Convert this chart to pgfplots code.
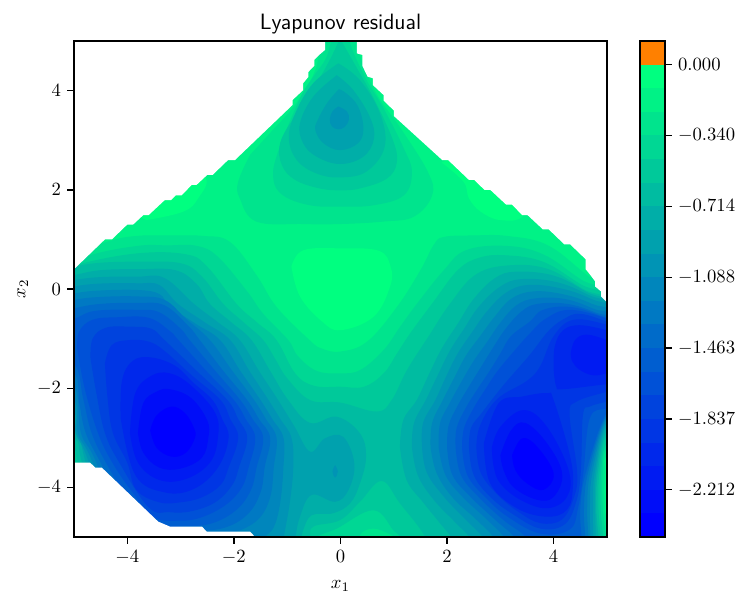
\documentclass[border=0pt]{standalone}
\usepackage{pgfplots}
\pgfplotsset{compat=1.18}
\definecolor{b1}{RGB}{0,255,128}\definecolor{b2}{RGB}{0,242,134}\definecolor{b3}{RGB}{0,228,141}\definecolor{b4}{RGB}{0,215,148}
\definecolor{b5}{RGB}{0,201,154}\definecolor{b6}{RGB}{0,188,161}\definecolor{b7}{RGB}{0,174,168}\definecolor{b8}{RGB}{0,161,174}
\definecolor{b9}{RGB}{0,148,181}\definecolor{b10}{RGB}{0,134,188}\definecolor{b11}{RGB}{0,121,195}\definecolor{b12}{RGB}{0,107,201}
\definecolor{b13}{RGB}{0,94,208}\definecolor{b14}{RGB}{0,81,215}\definecolor{b15}{RGB}{0,67,221}\definecolor{b16}{RGB}{0,54,228}
\definecolor{b17}{RGB}{0,40,235}\definecolor{b18}{RGB}{0,27,242}\definecolor{b19}{RGB}{0,13,248}\definecolor{b20}{RGB}{0,0,255}
\definecolor{bo}{RGB}{255,128,0}
\pgfplotsset{lv/.style={fill=b#1,draw=none,smooth,/tikz/tension=0.65},
  cb/.style={fill=#1,draw=none,sharp plot}}
\begin{document}
\begin{tikzpicture}
\useasboundingbox (-39.64pt,-35.36pt) rectangle (361.07pt,287.68pt);
\begin{axis}[name=main,at={(0pt,0pt)},anchor=south west,scale only axis,width=285.5pt,height=265.7pt,
  xmin=-5,xmax=5,ymin=-5,ymax=5,axis on top,
  xtick={-4,-2,0,2,4},ytick={-4,-2,0,2,4},xtick pos=bottom,ytick pos=left,tick align=outside,
  major tick length=3.5pt,axis line style={line width=.75pt,black},tick style={line width=.75pt,black},
  title={\sffamily Lyapunov residual},title style={font=\fontsize{11.9}{14}\selectfont,at={(0.5,1)},anchor=south,yshift=-6pt},
  xlabel={$x_1$},ylabel={$x_2$},
  xlabel style={at={(axis description cs:0.5,0)},anchor=north,yshift=-19.75pt},
  ylabel style={at={(axis description cs:0,0.5)},anchor=south,yshift=21pt}]
% base
\addplot[cb=b2] coordinates {(-5.2,-5.2)(5.2,-5.2)(5.2,5.2)(-5.2,5.2)} --cycle;
% brightest band
\addplot[lv=1] coordinates {(-.92,.45)(-.7,.78)(0,.82)(.72,.77)(.94,.45)(.93,.05)(.62,-.56)(0,-.83)(-.35,-.65)(-.76,-.15)(-.92,.45)};
\addplot[lv=1] coordinates {(-3.64,1.39)(-2.95,1.56)(-2.67,1.83)(-2.54,2.26)(-3.2,2.6)(-4,1.8)(-3.64,1.39)};
\addplot[lv=1] coordinates {(1.9,2.55)(2.31,2.16)(2.41,1.83)(2.63,1.56)(3,1.39)(3.44,1.49)(3.6,2.2)(2.8,2.8)(1.9,2.55)};
% upper lobe
\addplot[lv=3] coordinates {(-1.70,2.70)(-1.3,3.17)(-.92,3.62)(-.68,4.0)(-.46,4.45)(-.28,5.2)(.28,5.2)(.38,4.65)(.69,3.91)(1.13,3.24)(1.64,2.36)(1.72,1.89)(1.38,1.46)(.81,1.36)(0,1.31)(-.7,1.31)(-1.58,1.36)(-1.89,1.83)(-1.92,2.16)(-1.70,2.70)};
\addplot[lv=4] coordinates {(-.14,5.2)(-.26,4.68)(-.51,4.28)(-.76,3.84)(-1.17,2.77)(-1.26,2.23)(-1.08,1.89)(-.58,1.69)(0,1.66)(.63,1.69)(1.19,1.89)(1.34,2.36)(1.19,2.83)(.81,3.64)(.47,4.25)(.19,4.92)(.16,5.2)(-.14,5.2)};
\addplot[lv=5] coordinates {(-.01,5.05)(-.2,4.62)(-.45,4.15)(-.85,3.5)(-1.13,2.95)(-1.1,2.5)(-.85,2.2)(-.4,2.03)(0,1.99)(.375,2.03)(.875,2.23)(1.06,2.57)(.97,3.04)(.625,3.84)(.31,4.45)(-.01,5.05)};
\addplot[lv=6] coordinates {(-.04,4.55)(-.51,4.15)(-.82,3.61)(-.97,3.07)(-.82,2.6)(-.45,2.33)(-.01,2.25)(.49,2.37)(.83,2.87)(.74,3.54)(.365,4.21)(-.04,4.55)};
\addplot[lv=7] coordinates {(-.07,4.31)(-.51,3.88)(-.76,3.34)(-.70,2.94)(-.45,2.67)(-.01,2.52)(.43,2.67)(.63,3.04)(.55,3.47)(.24,4.01)(-.07,4.31)};
\addplot[lv=8] coordinates {(-.03,4.03)(-.25,3.75)(-.43,3.4)(-.47,3.2)(-.32,2.94)(-.01,2.80)(.33,2.94)(.43,3.24)(.33,3.68)(.115,3.94)(-.03,4.03)};
\addplot[lv=9] coordinates {(-.04,3.68)(.12,3.58)(.16,3.42)(.08,3.27)(-.04,3.22)(-.16,3.28)(-.2,3.42)(-.15,3.58)(-.04,3.68)};
% lower region
\addplot[lv=3] coordinates {(-5.6,.5)(-4.39,.95)(-3.825,1.07)(-3.2,1.08)(-2.575,1.07)(-2.075,.95)(-1.575,.28)(-1.2,-.36)(-.58,-1.03)(-.35,-1.2)(0,-1.26)(.5,-1.06)(1.06,-.36)(1.5,.38)(1.75,.89)(1.94,1.05)(2.5,1.08)(3.125,1.07)(3.875,.89)(4.6,.3)(5.4,-.4)(5.4,-3.1)(5,-3.35)(4.96,-3.68)(4.96,-4.5)(5.02,-5.4)(-5.6,-5.4)(-5.6,.5)};
\addplot[lv=4] coordinates {(-5.6,.3)(-4.7,.68)(-3.8,.87)(-3.25,.88)(-2.7,.87)(-2.3,.65)(-1.75,-.05)(-1.45,-.5)(-.98,-1.03)(-.8,-1.35)(-.45,-1.65)(0,-1.70)(.375,-1.63)(.81,-1.23)(1.12,-.76)(1.44,-.29)(1.94,.38)(2.35,.78)(3.1,.87)(3.8,.7)(4.5,.2)(5.4,-.45)(5.4,-3.0)(5,-3.2)(4.92,-3.68)(4.92,-4.4)(4.98,-5)(5,-5.4)(.99,-5.4)(.99,-5.02)(.9,-4.93)(.615,-4.83)(.365,-4.96)(.3,-5.4)(-5.6,-5.4)(-5.6,.3)};
\addplot[lv=5] coordinates {(-5.6,.2)(-4.9,.5)(-3.8,.72)(-2.9,.70)(-2.5,.45)(-1.95,-.3)(-1.57,-.67)(-1.2,-1.03)(-.85,-1.7)(-.5,-1.95)(0,-1.97)(.44,-1.97)(.81,-1.7)(1.06,-1.3)(1.31,-.89)(1.75,-.25)(2.2,.38)(2.6,.63)(3.1,.68)(3.8,.55)(4.5,.1)(5.4,-.5)(5.4,-2.9)(5,-3.1)(4.89,-3.68)(4.88,-4.4)(4.93,-5)(4.95,-5.4)(1.115,-5.4)(1.115,-5.02)(.99,-4.86)(.615,-4.46)(-.07,-4.83)(-.45,-5.02)(-.5,-5.4)(-4.5,-5.4)(-5,-3.9)(-5,-3.45)(-5.6,-3.3)(-5.6,.2)};
\addplot[lv=6] coordinates {(-5.6,.3)(-5,.45)(-4.5,.53)(-3.8,.55)(-3,.52)(-2.6,.25)(-2.2,-.3)(-1.82,-.67)(-1.45,-1.03)(-1.22,-1.42)(-1,-1.8)(-.57,-2.24)(0,-2.29)(.68,-2.47)(.96,-2.24)(1.25,-1.63)(1.65,-.96)(2.06,-.29)(2.55,.3)(3.2,.48)(3.9,.4)(4.55,0)(5.4,-.55)(5.4,-2.8)(5,-2.95)(4.86,-3.68)(4.84,-4.4)(4.88,-5)(4.9,-5.4)(1.6,-5.4)(1.6,-5.02)(1.115,-4.32)(.77,-3.87)(.365,-4.29)(-.01,-4.66)(-.51,-4.79)(-.57,-5.02)(-.6,-5.4)(-4.5,-5.4)(-4.93,-3.5)(-5,-3.25)(-5.6,-3.1)(-5.6,.3)};
% left lobe
\addplot[lv=7] coordinates {(-5.6,.15)(-5,.28)(-4.5,.38)(-3.8,.40)(-3.1,.38)(-2.7,.1)(-2.45,-.3)(-2.05,-.67)(-1.67,-1.03)(-1.32,-1.65)(-.98,-2.24)(-.57,-2.7)(-.07,-2.575)(.365,-2.91)(.48,-3.38)(.365,-3.92)(.18,-4.32)(-.135,-4.52)(-.54,-4.56)(-.7,-4.86)(-.75,-5.05)(-.78,-5.4)(-4.4,-5.4)(-4.85,-3.5)(-5,-3)(-5.6,-2.85)(-5.6,.15)};
\addplot[lv=8] coordinates {(-5.6,.05)(-5,.18)(-4.5,.24)(-3.8,.25)(-3.3,.22)(-2.75,-.3)(-2.3,-.67)(-1.89,-1.03)(-1.53,-1.65)(-1.17,-2.24)(-.87,-2.76)(-.57,-3.28)(-.29,-3.01)(.05,-2.98)(.26,-3.52)(.15,-4.05)(-.1,-4.29)(-.54,-4.15)(-.76,-4.59)(-.85,-5.05)(-.88,-5.4)(-4.3,-5.4)(-4.78,-3.5)(-5,-2.78)(-5.6,-2.6)(-5.6,.05)};
\addplot[lv=9] coordinates {(-.1,-3.55)(-.05,-3.68)(-.1,-3.8)(-.15,-3.68)(-.1,-3.55)};
\addplot[lv=9] coordinates {(-5.6,-.1)(-5,.05)(-4.5,.11)(-3.8,.115)(-3.4,.08)(-3.05,-.3)(-2.55,-.67)(-2.07,-1.03)(-1.71,-1.65)(-1.35,-2.24)(-1.13,-2.62)(-.92,-3)(-.885,-3.58)(-.95,-4.3)(-1.07,-5.05)(-1.1,-5.4)(-4.2,-5.4)(-4.72,-3.5)(-4.97,-2.9)(-5,-2.5)(-5.6,-2.3)(-5.6,-.1)};
\addplot[lv=10] coordinates {(-5.6,-.25)(-5,-.09)(-4.5,-.03)(-3.8,-.02)(-3.4,-.1)(-3.2,-.35)(-2.72,-.7)(-2.26,-1.03)(-1.88,-1.65)(-1.5,-2.24)(-1.28,-2.62)(-1.07,-3)(-1.07,-3.58)(-1.13,-4.3)(-1.25,-4.8)(-1.45,-5.05)(-1.5,-5.4)(-4,-5.4)(-4.65,-3.5)(-4.93,-2.9)(-5,-2.24)(-5.6,-2)(-5.6,-.25)};
\addplot[lv=11] coordinates {(-5.6,-.38)(-5,-.22)(-4.5,-.16)(-3.8,-.15)(-3.3,-.22)(-2.9,-.6)(-2.45,-1.03)(-2.03,-1.65)(-1.62,-2.24)(-1.4,-2.62)(-1.2,-3)(-1.25,-3.58)(-1.32,-4.2)(-1.55,-4.65)(-2,-4.92)(-2.4,-5.05)(-3,-5.4)(-4,-5.2)(-4.58,-3.5)(-4.87,-2.9)(-5,-1.97)(-5.6,-1.75)(-5.6,-.38)};
\addplot[lv=12] coordinates {(-5.6,-.55)(-5,-.39)(-4.5,-.3)(-3.8,-.28)(-3.3,-.33)(-2.85,-.75)(-2.64,-1.03)(-2.2,-1.65)(-1.75,-2.24)(-1.53,-2.62)(-1.32,-3)(-1.42,-3.58)(-1.5,-4.1)(-1.75,-4.55)(-2.2,-4.82)(-2.8,-4.88)(-3.4,-4.92)(-4.1,-4.3)(-4.5,-3.5)(-4.78,-2.9)(-4.9,-2.3)(-5,-1.7)(-5.6,-1.5)(-5.6,-.55)};
\addplot[lv=13] coordinates {(-5.6,-.78)(-5,-.6)(-4.6,-.44)(-3.8,-.42)(-3.4,-.47)(-3,-.8)(-2.83,-1.03)(-2.35,-1.65)(-1.88,-2.24)(-1.65,-2.62)(-1.45,-3)(-1.57,-3.58)(-1.68,-4.05)(-1.95,-4.45)(-2.4,-4.72)(-2.9,-4.78)(-3.5,-4.75)(-4,-4.2)(-4.4,-3.5)(-4.67,-2.9)(-4.83,-2.2)(-5,-1.5)(-5.6,-1.2)(-5.6,-.78)};
\addplot[lv=14] coordinates {(-4.94,-1.2)(-4.9,-.85)(-4.65,-.62)(-4.2,-.57)(-3.6,-.58)(-3.2,-.85)(-3.04,-1.03)(-2.52,-1.65)(-2,-2.24)(-1.78,-2.62)(-1.6,-3)(-1.72,-3.58)(-1.85,-4)(-2.15,-4.35)(-2.6,-4.6)(-3,-4.67)(-3.5,-4.6)(-3.9,-4.1)(-4.28,-3.5)(-4.55,-2.9)(-4.8,-2)(-4.94,-1.2)};
\addplot[lv=15] coordinates {(-4.69,-1.4)(-4.65,-1)(-4.4,-.78)(-3.95,-.76)(-3.55,-.8)(-3.3,-1.03)(-2.7,-1.65)(-2.12,-2.24)(-1.92,-2.62)(-1.75,-3)(-1.9,-3.58)(-2.03,-3.95)(-2.35,-4.3)(-2.8,-4.48)(-3.2,-4.5)(-3.6,-4.4)(-4.15,-3.5)(-4.42,-2.9)(-4.58,-2.1)(-4.69,-1.4)};
\addplot[lv=16] coordinates {(-4.42,-1.5)(-4.29,-1.13)(-3.97,-1.03)(-3.6,-1.06)(-3.3,-1.25)(-2.78,-1.75)(-2.25,-2.24)(-2.07,-2.62)(-1.92,-3)(-2.1,-3.6)(-2.25,-3.95)(-2.6,-4.2)(-3,-4.3)(-3.4,-4.3)(-3.83,-4.05)(-4,-3.5)(-4.27,-2.9)(-4.37,-2.2)(-4.42,-1.5)};
\addplot[lv=17] coordinates {(-4.125,-2.6)(-4.1,-1.85)(-3.9,-1.45)(-3.55,-1.38)(-3.1,-1.55)(-2.75,-1.9)(-2.4,-2.24)(-2.22,-2.62)(-2.1,-3)(-2.3,-3.6)(-2.75,-4.03)(-3.3,-4.1)(-3.85,-3.75)(-4.125,-2.6)};
\addplot[lv=18] coordinates {(-3.95,-2.9)(-3.85,-2.1)(-3.55,-1.75)(-3.2,-1.70)(-2.8,-1.95)(-2.35,-2.5)(-2.3,-3)(-2.45,-3.5)(-2.9,-3.83)(-3.4,-3.85)(-3.8,-3.5)(-3.95,-2.9)};
\addplot[lv=19] coordinates {(-3.8,-2.9)(-3.7,-2.3)(-3.45,-2.07)(-3.2,-2.02)(-2.8,-2.2)(-2.5,-2.65)(-2.48,-3)(-2.6,-3.4)(-3,-3.62)(-3.4,-3.6)(-3.7,-3.3)(-3.8,-2.9)};
\addplot[lv=20] coordinates {(-3.57,-2.85)(-3.45,-2.55)(-3.17,-2.37)(-2.92,-2.5)(-2.75,-2.8)(-2.73,-3)(-2.9,-3.3)(-3.17,-3.38)(-3.45,-3.2)(-3.57,-2.85)};
% right lobes
\addplot[lv=7] coordinates {(1.115,-3.18)(1.18,-2.64)(1.43,-2.24)(1.66,-1.72)(1.9,-1.2)(2.2,-.7)(2.5,-.2)(2.9,.22)(3.3,.35)(4,.27)(4.6,-.05)(5.4,-.6)(5.4,-2.7)(5,-2.85)(4.83,-3.68)(4.8,-4.4)(4.84,-5)(4.86,-5.4)(2.15,-5.4)(2.1,-5.05)(1.85,-4.7)(1.55,-4.3)(1.24,-3.85)(1.115,-3.18)};
\addplot[lv=8] coordinates {(1.34,-3.18)(1.38,-2.7)(1.6,-2.24)(1.82,-1.75)(2.05,-1.25)(2.32,-.8)(2.6,-.35)(3,.05)(3.4,.2)(4.05,.14)(4.65,-.12)(5.4,-.6)(5.4,-2.6)(5,-2.75)(4.8,-3.68)(4.78,-4.4)(4.79,-5)(4.79,-5.4)(2.5,-5.4)(2.45,-5.05)(2.15,-4.7)(1.75,-4.25)(1.45,-3.75)(1.34,-3.18)};
\addplot[lv=9] coordinates {(1.53,-3.18)(1.55,-2.7)(1.78,-2.24)(1.98,-1.77)(2.2,-1.3)(2.47,-.87)(2.75,-.45)(3.1,-.08)(3.5,.08)(4.1,.02)(4.7,-.2)(5.4,-.65)(5.4,-2.55)(5,-2.68)(4.77,-3.68)(4.74,-4.4)(4.74,-5)(4.74,-5.4)(2.75,-5.4)(2.7,-5.05)(2.35,-4.65)(1.95,-4.2)(1.62,-3.7)(1.53,-3.18)};
\addplot[lv=10] coordinates {(1.69,-3.18)(1.72,-2.7)(1.92,-2.24)(2.13,-1.8)(2.35,-1.35)(2.62,-.95)(2.9,-.55)(3.2,-.2)(3.6,-.05)(4.15,-.1)(4.72,-.3)(5.4,-.7)(5.4,-2.5)(5,-2.62)(4.73,-3.68)(4.68,-4.4)(4.69,-5)(4.69,-5.4)(2.95,-5.4)(2.9,-5.05)(2.55,-4.65)(2.1,-4.2)(1.8,-3.7)(1.69,-3.18)};
\addplot[lv=11] coordinates {(1.84,-3.18)(1.87,-2.7)(2.05,-2.3)(2.27,-1.87)(2.5,-1.45)(2.75,-1.07)(3,-.68)(3.3,-.33)(3.65,-.19)(4.2,-.2)(4.75,-.4)(5.4,-.75)(5.4,-2.45)(5,-2.57)(4.69,-3.68)(4.63,-4.4)(4.65,-5)(4.65,-5.4)(3.15,-5.4)(3.1,-5.05)(2.75,-4.65)(2.3,-4.2)(1.97,-3.75)(1.84,-3.18)};
\addplot[lv=12] coordinates {(2,-3.18)(2.03,-2.75)(2.2,-2.35)(2.42,-1.95)(2.65,-1.55)(2.87,-1.17)(3.1,-.8)(3.4,-.45)(3.7,-.3)(4.25,-.3)(4.8,-.48)(5.4,-.8)(5.4,-2.4)(5,-2.53)(4.65,-3.68)(4.57,-4.4)(4.59,-5)(4.59,-5.4)(3.35,-5.4)(3.3,-5.05)(2.9,-4.65)(2.45,-4.2)(2.1,-3.75)(2,-3.18)};
\addplot[lv=13] coordinates {(2.16,-3.18)(2.18,-2.8)(2.35,-2.4)(2.57,-2.02)(2.8,-1.65)(3,-1.3)(3.2,-.95)(3.55,-.66)(3.8,-.42)(4.3,-.36)(4.85,-.53)(5.4,-.85)(5.4,-2.35)(5,-2.48)(4.61,-3.68)(4.5,-4.4)(4.52,-5)(4.52,-5.4)(3.55,-5.4)(3.5,-5.03)(3.05,-4.65)(2.6,-4.2)(2.26,-3.75)(2.16,-3.18)};
\addplot[lv=14] coordinates {(2.28,-3.18)(2.32,-2.8)(2.5,-2.4)(2.72,-2.02)(2.95,-1.65)(3.3,-1.2)(3.55,-.9)(3.85,-.6)(4.3,-.42)(5,-.6)(5.4,-.85)(5.4,-2.25)(5,-2.4)(4.68,-2.6)(4.56,-3.68)(4.46,-4.4)(4.3,-4.85)(3.75,-4.93)(3.15,-4.6)(2.72,-4.2)(2.38,-3.75)(2.28,-3.18)};
\addplot[lv=15] coordinates {(2.41,-3.18)(2.45,-2.8)(2.65,-2.5)(3.05,-1.95)(3.55,-1.33)(3.9,-.85)(4.2,-.6)(4.5,-.5)(5,-.66)(5.4,-.85)(5.4,-2.15)(5,-2.27)(4.68,-2.37)(4.55,-2.54)(4.51,-3.68)(4.42,-4.3)(4.2,-4.75)(3.75,-4.83)(3.25,-4.55)(2.82,-4.2)(2.5,-3.75)(2.41,-3.18)};
\addplot[lv=16] coordinates {(2.55,-3.18)(2.62,-2.75)(2.94,-2.22)(3.5,-1.85)(3.75,-1.55)(4,-.95)(4.375,-.62)(5,-.72)(5.4,-.88)(5.4,-1.95)(5,-2.07)(4.43,-2.27)(4.3,-2.54)(4.44,-3.68)(4.38,-4.2)(4.15,-4.65)(3.75,-4.72)(3.35,-4.5)(2.95,-4.15)(2.63,-3.7)(2.55,-3.18)};
\addplot[lv=17] coordinates {(2.69,-3.11)(2.97,-2.3)(3.4,-2.17)(3.875,-2.1)(4,-2.24)(4.31,-3.38)(4.36,-4)(4.25,-4.45)(3.875,-4.59)(3.31,-4.42)(2.81,-3.92)(2.69,-3.11)};
\addplot[lv=17] coordinates {(4,-1.63)(4.05,-1.97)(4.18,-2.02)(5,-1.92)(5.4,-1.9)(5.4,-.95)(5,-.83)(4.49,-.73)(4.18,-.83)(4.02,-1.16)(4,-1.63)};
\addplot[lv=18] coordinates {(2.84,-3.2)(3,-2.78)(3.44,-2.44)(3.875,-2.78)(4.28,-3.65)(4.25,-4.19)(3.875,-4.42)(3.375,-4.25)(3,-3.92)(2.875,-3.58)(2.84,-3.2)};
\addplot[lv=18] coordinates {(4.32,-1.3)(4.4,-1.03)(4.62,-.92)(5,-1.03)(5.4,-1.2)(5.4,-1.6)(5,-1.7)(4.74,-1.74)(4.49,-1.63)(4.35,-1.46)(4.32,-1.3)};
\addplot[lv=19] coordinates {(3,-3.35)(3.2,-2.85)(3.47,-2.7)(3.875,-3.11)(4.16,-3.72)(4,-4.19)(3.69,-4.25)(3.25,-4)(3.06,-3.65)(3,-3.35)};
\addplot[lv=20] coordinates {(3.22,-3.35)(3.41,-3.01)(3.69,-3.18)(4,-3.72)(3.81,-4.05)(3.5,-3.92)(3.28,-3.65)(3.22,-3.35)};
% outside the plotted domain
\addplot[cb=white] coordinates {(-5.3,.42)(-4.98,.42)(-4.42,1)(-4.29,1)(-4,1.3)(-3.89,1.3)(-3.7,1.49)(-3.6,1.49)(-3.3,1.79)(-3.18,1.79)(-3.09,1.89)(-2.98,1.89)(-2.79,2.1)(-2.7,2.1)(-2.5,2.3)(-2.4,2.3)(-2.11,2.6)(-1.98,2.6)(-.9,3.71)(-.9,3.81)(-.7,4.01)(-.7,4.15)(-.6,4.28)(-.6,4.38)(-.49,4.5)(-.49,4.62)(-.4,4.72)(-.29,4.82)(-.29,5.3)(-5.3,5.3)} --cycle;
\addplot[cb=white] coordinates {(.31,5.3)(.31,4.75)(.41,4.72)(.41,4.5)(.51,4.28)(.61,4.25)(.61,4.11)(.81,3.91)(.81,3.8)(1,3.6)(1,3.49)(1.91,2.6)(2.02,2.6)(2.41,2.2)(2.51,2.2)(2.7,2)(2.81,2)(3.11,1.7)(3.22,1.7)(3.41,1.49)(3.51,1.49)(3.8,1.2)(3.91,1.2)(4.2,.9)(4.31,.9)(4.6,.6)(4.6,.4)(4.69,.28)(4.78,.15)(4.78,.05)(4.89,-.05)(4.89,-.15)(5,-.27)(5.3,-.27)(5.3,5.3)} --cycle;
\addplot[cb=white] coordinates {(-5.3,-3.5)(-4.7,-3.5)(-4.6,-3.6)(-4.48,-3.6)(-3.42,-4.69)(-3.2,-4.79)(-2.6,-4.79)(-2.51,-4.89)(-1.7,-4.89)(-1.6,-5)(-1.55,-5.3)(-5.3,-5.3)} --cycle;
\end{axis}
\begin{axis}[at={(303.2pt,0pt)},anchor=south west,scale only axis,width=13.39pt,height=265.7pt,
  xmin=0,xmax=1,ymin=0,ymax=21,xtick=\empty,axis on top,
  ytick={2,5,8,11,14,17,20},
  yticklabels={$-2.212$,$-1.837$,$-1.463$,$-1.088$,$-0.714$,$-0.340$,$0.000$},
  ytick pos=right,yticklabel pos=right,tick align=outside,major tick length=3.5pt,
  axis line style={line width=.75pt,black},tick style={line width=.75pt,black}]
\addplot[cb=b20] coordinates {(0,0)(1,0)(1,1)(0,1)} --cycle;
\addplot[cb=b19] coordinates {(0,1)(1,1)(1,2)(0,2)} --cycle;
\addplot[cb=b18] coordinates {(0,2)(1,2)(1,3)(0,3)} --cycle;
\addplot[cb=b17] coordinates {(0,3)(1,3)(1,4)(0,4)} --cycle;
\addplot[cb=b16] coordinates {(0,4)(1,4)(1,5)(0,5)} --cycle;
\addplot[cb=b15] coordinates {(0,5)(1,5)(1,6)(0,6)} --cycle;
\addplot[cb=b14] coordinates {(0,6)(1,6)(1,7)(0,7)} --cycle;
\addplot[cb=b13] coordinates {(0,7)(1,7)(1,8)(0,8)} --cycle;
\addplot[cb=b12] coordinates {(0,8)(1,8)(1,9)(0,9)} --cycle;
\addplot[cb=b11] coordinates {(0,9)(1,9)(1,10)(0,10)} --cycle;
\addplot[cb=b10] coordinates {(0,10)(1,10)(1,11)(0,11)} --cycle;
\addplot[cb=b9] coordinates {(0,11)(1,11)(1,12)(0,12)} --cycle;
\addplot[cb=b8] coordinates {(0,12)(1,12)(1,13)(0,13)} --cycle;
\addplot[cb=b7] coordinates {(0,13)(1,13)(1,14)(0,14)} --cycle;
\addplot[cb=b6] coordinates {(0,14)(1,14)(1,15)(0,15)} --cycle;
\addplot[cb=b5] coordinates {(0,15)(1,15)(1,16)(0,16)} --cycle;
\addplot[cb=b4] coordinates {(0,16)(1,16)(1,17)(0,17)} --cycle;
\addplot[cb=b3] coordinates {(0,17)(1,17)(1,18)(0,18)} --cycle;
\addplot[cb=b2] coordinates {(0,18)(1,18)(1,19)(0,19)} --cycle;
\addplot[cb=b1] coordinates {(0,19)(1,19)(1,20)(0,20)} --cycle;
\addplot[cb=bo] coordinates {(0,20)(1,20)(1,21)(0,21)} --cycle;
\end{axis}
\end{tikzpicture}
\end{document}
